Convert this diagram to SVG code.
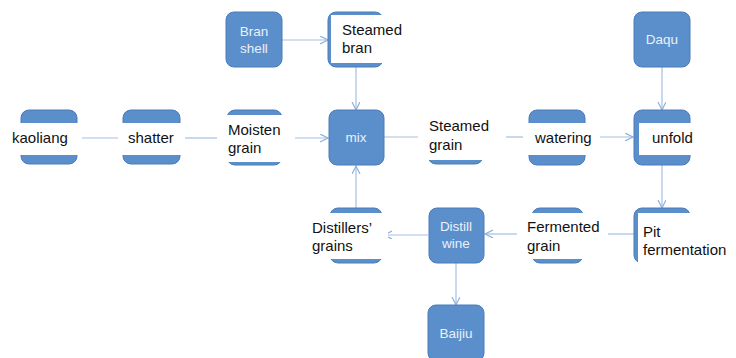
<svg xmlns="http://www.w3.org/2000/svg" width="736" height="358" viewBox="0 0 736 358">
<defs>
<marker id="arr" markerUnits="userSpaceOnUse" markerWidth="10" markerHeight="10" refX="8" refY="4" orient="auto">
<path d="M0,0 L8,4 L0,8" fill="none" stroke="#8fb0da" stroke-width="1.2"/>
</marker>
</defs>
<style>
.box{fill:#5b8fcb;stroke:#4a7cba;stroke-width:1}
.cover{fill:#ffffff}
.lbl{font-family:"Liberation Sans",Arial,sans-serif;font-size:15px;fill:#111111}
.wl{font-family:"Liberation Sans",Arial,sans-serif;font-size:13.5px;fill:#e9f0fa;text-anchor:middle}
.c{stroke:#a6c0e2;stroke-width:1.2;fill:none}
.ca{stroke:#a6c0e2;stroke-width:1.2;fill:none;marker-end:url(#arr)}
</style>
<rect width="736" height="358" fill="#ffffff"/>
<g id="connectors">
<line class="c" x1="82" y1="138" x2="118" y2="138"/>
<line class="c" x1="185" y1="138" x2="217" y2="138"/>
<line class="ca" x1="295" y1="138" x2="328" y2="138"/>
<line class="ca" x1="282" y1="40" x2="328" y2="40"/>
<line class="ca" x1="356" y1="67" x2="356" y2="110"/>
<line class="c" x1="384" y1="137" x2="418" y2="137"/>
<line class="c" x1="506" y1="137" x2="523" y2="137"/>
<line class="ca" x1="600" y1="137" x2="633" y2="137"/>
<line class="ca" x1="662" y1="67" x2="662" y2="110"/>
<line class="ca" x1="662" y1="165" x2="662" y2="208"/>
<line class="c" x1="608" y1="234" x2="634" y2="234"/>
<line class="ca" x1="517" y1="234" x2="485" y2="234"/>
<line class="ca" x1="428" y1="235" x2="384" y2="235"/>
<line class="ca" x1="356" y1="208" x2="356" y2="166"/>
<line class="ca" x1="456" y1="263" x2="456" y2="305"/>
</g>
<g id="kaoliang">
<rect class="box" x="21" y="110" width="56" height="54" rx="8"/>
<rect class="cover" x="8" y="123" width="74" height="32"/>
<text class="lbl" x="12" y="143">kaoliang</text>
</g>
<g id="shatter">
<rect class="box" x="123" y="110" width="57" height="54" rx="8"/>
<rect class="cover" x="118" y="123" width="66" height="32"/>
<text class="lbl" x="128" y="143">shatter</text>
</g>
<g id="moisten-grain">
<rect class="box" x="227" y="110" width="55" height="55" rx="8"/>
<rect class="cover" x="217" y="115" width="76" height="47"/>
<text class="lbl" x="228" y="135">Moisten</text>
<text class="lbl" x="228" y="153">grain</text>
</g>
<g id="bran-shell">
<rect class="box" x="226" y="12" width="56" height="55" rx="8"/>
<text class="wl" x="254" y="36">Bran</text>
<text class="wl" x="254" y="53">shell</text>
</g>
<g id="steamed-bran">
<rect class="box" x="328" y="12" width="55" height="55" rx="8"/>
<rect class="cover" x="331" y="15" width="80" height="48"/>
<text class="lbl" x="342" y="35">Steamed</text>
<text class="lbl" x="342" y="53">bran</text>
</g>
<g id="mix">
<rect class="box" x="329" y="110" width="55" height="55" rx="8"/>
<text class="wl" x="356" y="142">mix</text>
</g>
<g id="steamed-grain">
<rect class="box" x="428" y="110" width="55" height="54" rx="8"/>
<rect class="cover" x="418" y="105" width="86" height="55"/>
<text class="lbl" x="429" y="131">Steamed</text>
<text class="lbl" x="429" y="150">grain</text>
</g>
<g id="watering">
<rect class="box" x="529" y="110" width="56" height="55" rx="8"/>
<rect class="cover" x="523" y="123" width="74" height="32"/>
<text class="lbl" x="535" y="143">watering</text>
</g>
<g id="daqu">
<rect class="box" x="634" y="12" width="56" height="55" rx="8"/>
<text class="wl" x="662" y="44">Daqu</text>
</g>
<g id="unfold">
<rect class="box" x="634" y="110" width="56" height="55" rx="8"/>
<rect class="cover" x="639" y="123" width="60" height="32"/>
<text class="lbl" x="652" y="143">unfold</text>
</g>
<g id="pit-fermentation">
<rect class="box" x="634" y="208" width="56" height="55" rx="8"/>
<rect class="cover" x="638" y="213" width="98" height="52"/>
<text class="lbl" x="643" y="237">Pit</text>
<text class="lbl" x="643" y="255">fermentation</text>
</g>
<g id="fermented-grain">
<rect class="box" x="532" y="208" width="51" height="55" rx="8"/>
<rect class="cover" x="520" y="213" width="80" height="46"/>
<text class="lbl" x="527" y="232">Fermented</text>
<text class="lbl" x="527" y="251">grain</text>
</g>
<g id="distill-wine">
<rect class="box" x="429" y="208" width="55" height="55" rx="8"/>
<text class="wl" x="456" y="231">Distill</text>
<text class="wl" x="456" y="248">wine</text>
</g>
<g id="distillers-grains">
<rect class="box" x="330" y="208" width="52" height="55" rx="8"/>
<rect class="cover" x="306" y="213" width="82" height="46"/>
<text class="lbl" x="312" y="233">Distillers’</text>
<text class="lbl" x="312" y="251">grains</text>
</g>
<g id="baijiu">
<rect class="box" x="428" y="305" width="56" height="56" rx="8"/>
<text class="wl" x="456" y="338">Baijiu</text>
</g>
</svg>
